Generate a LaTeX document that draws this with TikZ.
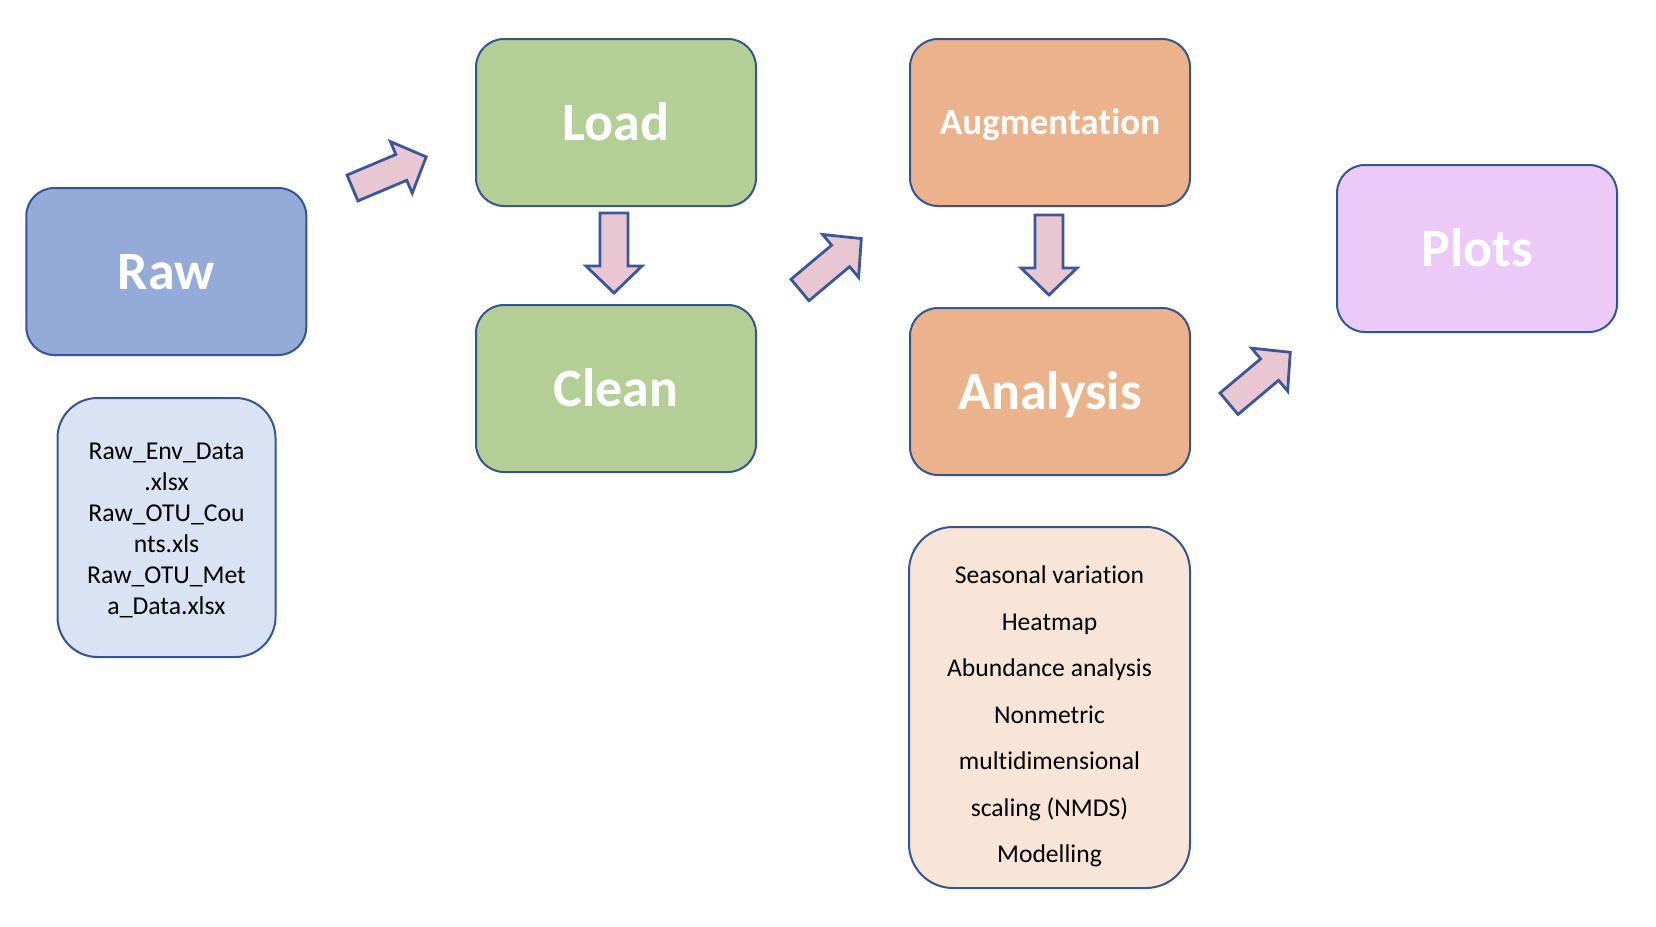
\documentclass[tikz,border=0pt]{standalone}
\usepackage{fontspec}
\setmainfont{Carlito}[Ligatures={NoCommon,TeX}]
\definecolor{bordc}{HTML}{34558F}
\definecolor{rawc}{HTML}{94AAD9}
\definecolor{greenc}{HTML}{B3CF96}
\definecolor{orangec}{HTML}{EAB38B}
\definecolor{plotc}{HTML}{ECCAF8}
\definecolor{lbluec}{HTML}{DAE3F3}
\definecolor{peachc}{HTML}{F8E5D8}
\definecolor{arrfill}{HTML}{E8C7D3}
\definecolor{arrbord}{HTML}{3B5796}
\tikzset{
  mainbox/.style={draw=bordc, line width=2pt, rounded corners=28pt,
    minimum width=280pt, minimum height=167pt, inner sep=0pt,
    text=white, font=\fontsize{54}{60}\selectfont\bfseries,
    text height=35pt, text depth=0pt},
  smallbox/.style={draw=bordc, line width=2pt, inner sep=0pt},
  listtext/.style={align=center, inner sep=0pt, text=black},
  blockarrow/.pic={\draw[draw=arrbord, fill=arrfill, line width=2.8pt, line join=miter]
    (0,-14) -- (53,-14) -- (53,-28) -- (80,0) -- (53,28) -- (53,14) -- (0,14) -- cycle;}
}
\begin{document}
\begin{tikzpicture}[x=1pt,y=1pt]
\useasboundingbox[fill=white] (0,0) rectangle (1656,-926);
% main boxes
\node[mainbox, fill=rawc] (raw) at (166.3,-271.5) {Raw};
\node[mainbox, fill=greenc] (load) at (616,-122.5) {Load};
\node[mainbox, fill=greenc] (clean) at (616,-388.5) {Clean};
\node[mainbox, fill=orangec, font=\fontsize{37}{42}\selectfont\bfseries, text height=24pt] (aug) at (1050,-122.5) {Augmentation};
\node[mainbox, fill=orangec] (ana) at (1050,-391.5) {Analysis};
\node[mainbox, fill=plotc] (plots) at (1477,-248.5) {Plots};
% detail boxes
\node[smallbox, fill=lbluec, rounded corners=40pt, minimum width=218pt, minimum height=259pt] (rawfiles) at (166.5,-527.5) {};
\node[listtext, font=\fontsize{25.7}{31}\selectfont] (rawfilestext) at (166.5,-530.5)
  {Raw\_Env\_Data\\.xlsx\\Raw\_OTU\_Cou\\nts.xls\\Raw\_OTU\_Met\\a\_Data.xlsx};
\node[smallbox, fill=peachc, rounded corners=44pt, minimum width=281pt, minimum height=361pt] (analist) at (1049.5,-707.5) {};
\node[listtext, font=\fontsize{25.6}{46.5}\selectfont] (analisttext) at (1049.5,-716.5)
  {Seasonal variation\\Heatmap\\Abundance analysis\\Nonmetric\\multidimensional\\scaling (NMDS)\\Modelling};
% block arrows
\pic[rotate=22.9] at (352.5,-188) {blockarrow};
\pic[rotate=-90] at (614,-213) {blockarrow};
\pic[rotate=40] at (800,-290) {blockarrow};
\pic[rotate=-90] at (1049,-215) {blockarrow};
\pic[rotate=40] at (1229,-403.7) {blockarrow};
\end{tikzpicture}
\end{document}
